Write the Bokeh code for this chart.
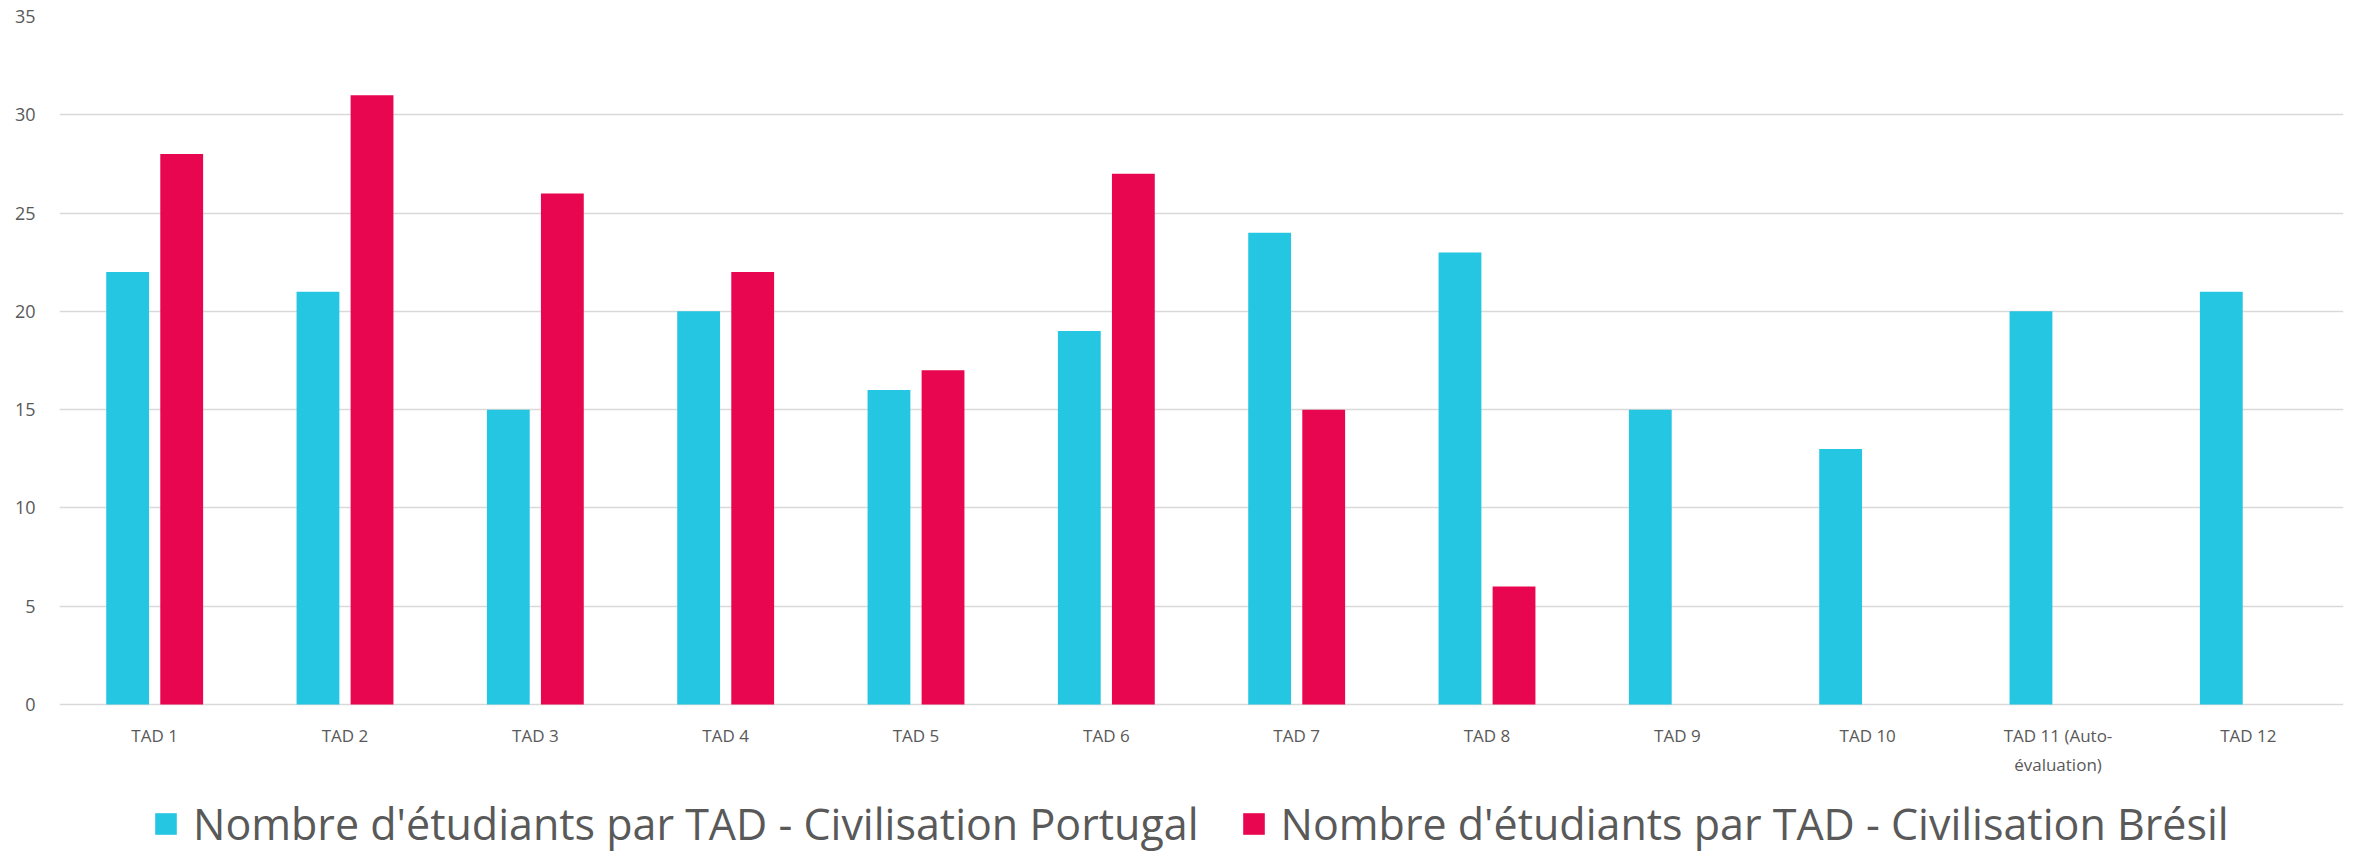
from bokeh.plotting import figure
from bokeh.models import ColumnDataSource, FactorRange, Range1d, Legend, LegendItem, FixedTicker
from bokeh.transform import dodge
from bokeh.core.properties import value
from bokeh.embed import file_html
from bokeh.resources import INLINE

categories = ["TAD 1", "TAD 2", "TAD 3", "TAD 4", "TAD 5", "TAD 6", "TAD 7", "TAD 8",
              "TAD 9", "TAD 10", "TAD 11", "TAD 12"]
tick_labels = ["TAD 1", "TAD 2", "TAD 3", "TAD 4", "TAD 5", "TAD 6", "TAD 7", "TAD 8",
               "TAD 9", "TAD 10", "TAD 11 (Auto-\névaluation)", "TAD 12"]
portugal = [22, 21, 15, 20, 16, 19, 24, 23, 15, 13, 20, 21]
bresil = [28, 31, 26, 22, 17, 27, 15, 6, None, None, None, None]
y_ticks = [0, 5, 10, 15, 20, 25, 30, 35]

name_pt = "Nombre d'étudiants par TAD - Civilisation Portugal"
name_br = "Nombre d'étudiants par TAD - Civilisation Brésil"

FONT = "Open Sans"
CYAN = "#25C6E2"
RED = "#E90651"
GRID = "#D9D9D9"
TXT = "#595959"

src_pt = ColumnDataSource(dict(cat=categories, val=portugal))
br_cats = [c for c, v in zip(categories, bresil) if v is not None]
br_vals = [v for v in bresil if v is not None]
src_br = ColumnDataSource(dict(cat=br_cats, val=br_vals))
src_lab = ColumnDataSource(dict(cat=categories, lab=tick_labels, y=[0] * len(categories)))

# frame spans 16..856 px; value 0 sits at 704 px, 35 at 16 px
y_top = 35
y_bottom = -(856 - 704) * y_top / (704 - 16)

p = figure(width=2359, height=856,
           x_range=FactorRange(*categories, range_padding=0, factor_padding=0),
           y_range=Range1d(y_bottom, y_top), output_backend="svg", toolbar_location=None,
           x_axis_location=None,
           min_border_left=59, min_border_right=16, min_border_top=16, min_border_bottom=0)
p.outline_line_color = None

r1 = p.vbar(x=dodge("cat", -0.142, range=p.x_range), top="val", width=0.225, source=src_pt,
            fill_color=CYAN, line_color=None)
r2 = p.vbar(x=dodge("cat", 0.142, range=p.x_range), top="val", width=0.225, source=src_br,
            fill_color=RED, line_color=None)

p.yaxis.ticker = FixedTicker(ticks=y_ticks)
p.yaxis.axis_line_color = None
p.yaxis.major_tick_line_color = None
p.yaxis.minor_tick_line_color = None
p.yaxis.major_label_text_font = FONT
p.yaxis.major_label_text_font_size = "18px"
p.yaxis.major_label_text_color = TXT
p.yaxis.major_label_standoff = 18

p.xgrid.grid_line_color = None
p.ygrid.grid_line_color = GRID
p.ygrid.grid_line_width = 1.5

# category labels under the zero line
p.text(x="cat", y="y", text="lab", source=src_lab, y_offset=19,
       text_align="center", text_baseline="top", text_font=value(FONT),
       text_font_size="17px", text_color=TXT, text_line_height=1.3)

legend = Legend(items=[LegendItem(label=name_pt, renderers=[r1]),
                       LegendItem(label=name_br, renderers=[r2])],
                orientation="horizontal", location=(93, 3),
                label_text_font=FONT, label_text_font_size="43px", label_text_color=TXT,
                glyph_width=27, glyph_height=27, label_standoff=14, spacing=41,
                border_line_color=None, background_fill_alpha=0, margin=0, padding=0)
p.add_layout(legend, "center")

open("out.html", "w").write(file_html(p, INLINE))
